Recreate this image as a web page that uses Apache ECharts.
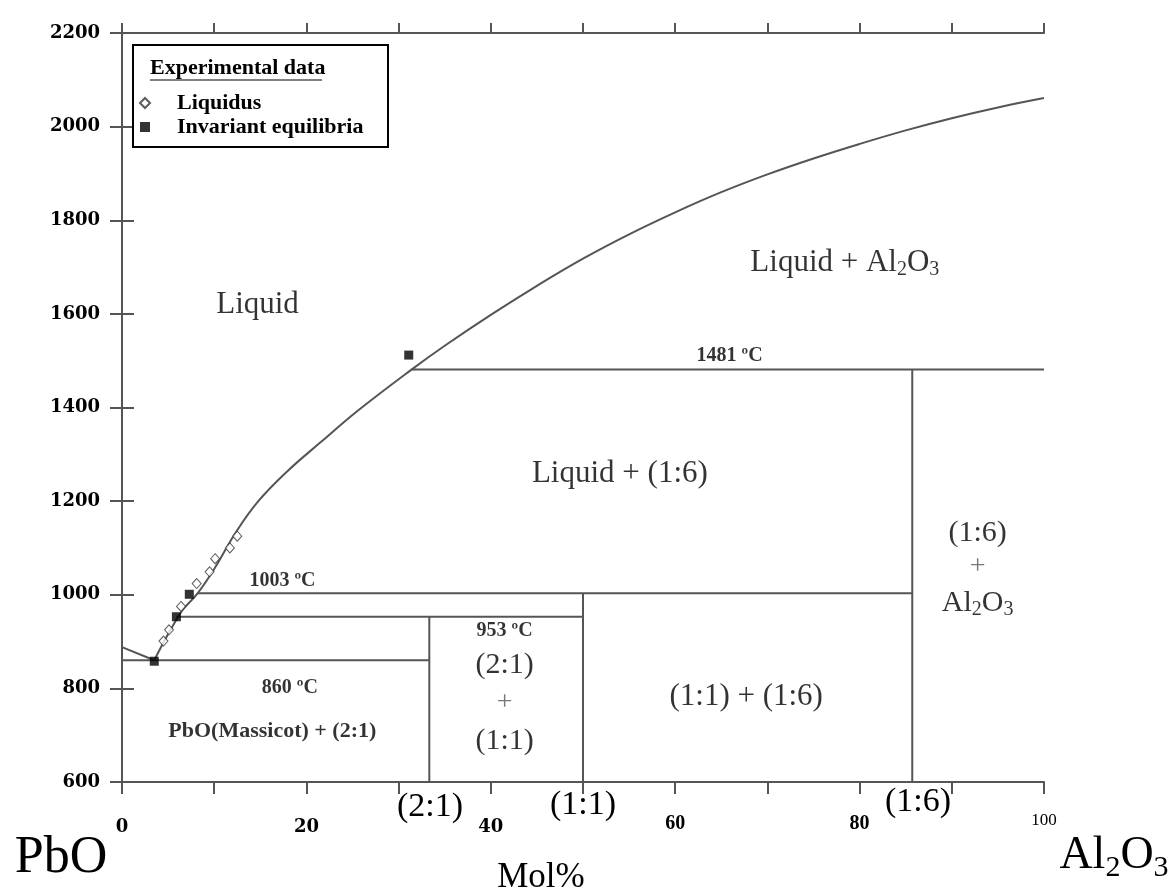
<!DOCTYPE html>
<html>
<head>
<meta charset="utf-8">
<script src="https://cdn.jsdelivr.net/npm/echarts@6/dist/echarts.min.js"></script>
<style>
html, body { margin: 0; padding: 0; background: #fff; }
#chart { width: 1173px; height: 894px; }
</style>
</head>
<body>
<div id="chart"></div>
<script>
const xTicks = [0, 20, 40, 60, 80, 100];
const yTicks = [600, 800, 1000, 1200, 1400, 1600, 1800, 2000, 2200];

// liquidus côté PbO (0 -> eutectique)
const liquidusPbO = [[0, 888], [3.5, 860]];
// liquidus côté Al2O3 (eutectique -> 100)
const liquidusAl2O3 = [
    [3.5, 860], [4.5, 898], [5.5, 933], [6.6, 968], [8.2, 1003], [10, 1055],
    [12.4, 1135], [14.7, 1198], [18, 1265], [21.5, 1325], [25.5, 1392],
    [31.4, 1481], [35, 1532], [40, 1598], [45, 1660], [50, 1718], [55, 1770],
    [60, 1817], [65, 1860], [70, 1898], [75, 1932], [80, 1963], [85, 1992],
    [90, 2018], [95, 2041], [100, 2061]
];

// paliers invariants
const palier860 = [[0, 860], [33.33, 860]];
const palier953 = [[5.9, 953], [50, 953]];
const palier1003 = [[8.2, 1003], [85.71, 1003]];
const palier1481 = [[31.4, 1481], [100, 1481]];

// composés (2:1), (1:1), (1:6)
const compose21 = [[33.33, 600], [33.33, 953]];
const compose11 = [[50, 600], [50, 1003]];
const compose16 = [[85.71, 600], [85.71, 1481]];

// points expérimentaux
const liquidusExp = [[4.5, 901], [5.1, 925], [6.4, 975], [8.1, 1024], [9.5, 1049], [10.1, 1077], [11.7, 1100], [12.5, 1125]];
const invariantsExp = [[3.5, 858], [5.9, 953], [7.3, 1001], [31.1, 1512]];

// étiquettes des domaines
const etiquettes = [
    { pos: [14.7, 1619], txt: '{n|Liquid}' },
    { pos: [78.4, 1709], txt: '{n|Liquid + Al}{s|2}{n|O}{s|3}' },
    { pos: [65.9, 1510], txt: '{t|1481 ºC}' },
    { pos: [54.0, 1258], txt: '{n|Liquid + (1:6)}' },
    { pos: [17.4, 1029], txt: '{t|1003 ºC}' },
    { pos: [41.5, 923], txt: '{t|953 ºC}' },
    { pos: [41.5, 850], txt: '{g|(2:1)}' },
    { pos: [41.5, 769], txt: '{p|+}' },
    { pos: [41.5, 688], txt: '{g|(1:1)}' },
    { pos: [18.2, 801], txt: '{t|860 ºC}' },
    { pos: [16.3, 709], txt: '{m|PbO(Massicot) + (2:1)}' },
    { pos: [67.7, 782], txt: '{n|(1:1) + (1:6)}' },
    { pos: [92.8, 1132], txt: '{g|(1:6)}' },
    { pos: [92.8, 1059], txt: '{p|+}' },
    { pos: [92.8, 982], txt: '{g|Al}{s|2}{g|O}{s|3}' }
];

const serif = 'Liberation Serif';
const ligne = { color: '#555', width: 2 };
const richTexte = {
    n: { fontFamily: serif, fontSize: 31, color: '#000' },
    s: { fontFamily: serif, fontSize: 20, color: '#000', padding: [14, 0, 0, 0] },
    t: { fontFamily: serif, fontSize: 20, fontWeight: 'bold', color: '#000' },
    g: { fontFamily: serif, fontSize: 30, color: '#000' },
    p: { fontFamily: serif, fontSize: 28, color: '#555' },
    m: { fontFamily: serif, fontSize: 22, fontWeight: 'bold', color: '#000' }
};

function trait(nom, data, smooth) {
    return {
        name: nom, type: 'line', data: data, smooth: smooth || false,
        showSymbol: false, symbol: 'none', lineStyle: ligne, silent: true,
        animation: false, z: 2
    };
}

const chart = echarts.init(document.getElementById('chart'));
const option = {
    backgroundColor: '#fff',
    animation: false,
    grid: { left: 122, top: 33, width: 922, height: 749 },
    xAxis: [{
        type: 'value', min: 0, max: 100, interval: 10, position: 'bottom',
        axisLine: { lineStyle: { color: '#555', width: 2 } },
        axisTick: { length: 12, lineStyle: { color: '#555', width: 2 } },
        splitLine: { show: false },
        axisLabel: {
            margin: 30,
            formatter: v => xTicks.indexOf(v) < 0 ? '' : (v <= 40 ? '{a|' + v + '}' : v < 100 ? '{b|' + v + '}' : '{c|' + v + '}'),
            rich: {
                a: { fontFamily: 'DejaVu Serif', fontWeight: 'bold', fontSize: 18, color: '#000', padding: [6, 0, 0, 0] },
                b: { fontFamily: serif, fontWeight: 'bold', fontSize: 20, color: '#000', padding: [2, 0, 0, 0] },
                c: { fontFamily: serif, fontSize: 17, color: '#000', padding: [0, 0, 22, 0] }
            }
        }
    }, {
        type: 'value', min: 0, max: 100, interval: 10, position: 'top',
        axisLine: { lineStyle: { color: '#555', width: 2 } },
        axisTick: { length: 10, lineStyle: { color: '#555', width: 2 } },
        axisLabel: { show: false }, splitLine: { show: false }
    }],
    yAxis: [{
        type: 'value', min: 600, max: 2200, interval: 200, position: 'left',
        axisLine: { show: true, lineStyle: { color: '#555', width: 2 } },
        axisTick: { show: true, length: 12, lineStyle: { color: '#555', width: 2 } },
        splitLine: { show: false },
        axisLabel: {
            margin: 22, fontFamily: 'DejaVu Serif', fontWeight: 'bold', fontSize: 18, color: '#000',
            formatter: v => yTicks.indexOf(v) < 0 ? '' : String(v)
        }
    }, {
        type: 'value', min: 600, max: 2200, interval: 200, position: 'right',
        axisLine: { show: true, lineStyle: { color: '#555', width: 2 } },
        axisTick: { show: true, length: 12, lineStyle: { color: '#555', width: 2 } },
        axisLabel: { show: false }, splitLine: { show: false }
    }],
    legend: {
        orient: 'vertical', left: 134, top: 87, itemWidth: 10, itemHeight: 10, itemGap: 2,
        data: ['Liquidus', 'Invariant equilibria'],
        textStyle: { fontFamily: serif, fontWeight: 'bold', fontSize: 22, color: '#000', padding: [0, 0, 0, 22] }
    },
    graphic: [
        { type: 'rect', shape: { x: 133, y: 45, width: 255, height: 102 }, style: { fill: 'none', stroke: '#000', lineWidth: 2 }, z: 10 },
        { type: 'text', x: 150, y: 57, style: { text: 'Experimental data', font: 'bold 22px "Liberation Serif"', fill: '#000' }, z: 10 },
        { type: 'line', shape: { x1: 150, y1: 80, x2: 322, y2: 80 }, style: { stroke: '#000', lineWidth: 1 }, z: 10 },
        { type: 'text', x: 61, y: 858, style: { text: 'PbO', font: '52px "Liberation Serif"', fill: '#000', align: 'center', verticalAlign: 'middle' } },
        { type: 'text', x: 1114, y: 856, style: {
            text: '{n|Al}{s|2}{n|O}{s|3}', align: 'center', verticalAlign: 'middle',
            rich: { n: { fontFamily: serif, fontSize: 46, color: '#000' }, s: { fontFamily: serif, fontSize: 30, color: '#000', padding: [24, 0, 0, 0] } }
        } },
        { type: 'text', x: 541, y: 878, style: { text: 'Mol%', font: '35px "Liberation Serif"', fill: '#000', align: 'center', verticalAlign: 'middle' } },
        { type: 'text', x: 430, y: 807, style: { text: '(2:1)', font: '34px "Liberation Serif"', fill: '#000', align: 'center', verticalAlign: 'middle' } },
        { type: 'text', x: 583, y: 805, style: { text: '(1:1)', font: '34px "Liberation Serif"', fill: '#000', align: 'center', verticalAlign: 'middle' } },
        { type: 'text', x: 918, y: 802, style: { text: '(1:6)', font: '34px "Liberation Serif"', fill: '#000', align: 'center', verticalAlign: 'middle' } }
    ],
    series: [
        trait('liquidus PbO', liquidusPbO),
        trait('liquidus Al2O3', liquidusAl2O3, 0.4),
        trait('860', palier860),
        trait('953', palier953),
        trait('1003', palier1003),
        trait('1481', palier1481),
        trait('2:1', compose21),
        trait('1:1', compose11),
        trait('1:6', compose16),
        {
            name: 'Liquidus', type: 'scatter', data: liquidusExp, symbol: 'diamond', symbolSize: [9, 10],
            itemStyle: { color: '#fff', borderColor: '#333', borderWidth: 1 }, z: 5
        },
        {
            name: 'Invariant equilibria', type: 'scatter', data: invariantsExp, symbol: 'rect', symbolSize: 9,
            itemStyle: { color: '#000' }, z: 5
        },
        {
            name: 'etiquettes', type: 'scatter', symbolSize: 0, silent: true, z: 6,
            data: etiquettes.map(e => ({ value: e.pos, label: { formatter: e.txt } })),
            label: { show: true, position: 'inside', align: 'center', verticalAlign: 'middle', rich: richTexte }
        }
    ]
};
chart.setOption(option);
</script>
</body>
</html>
